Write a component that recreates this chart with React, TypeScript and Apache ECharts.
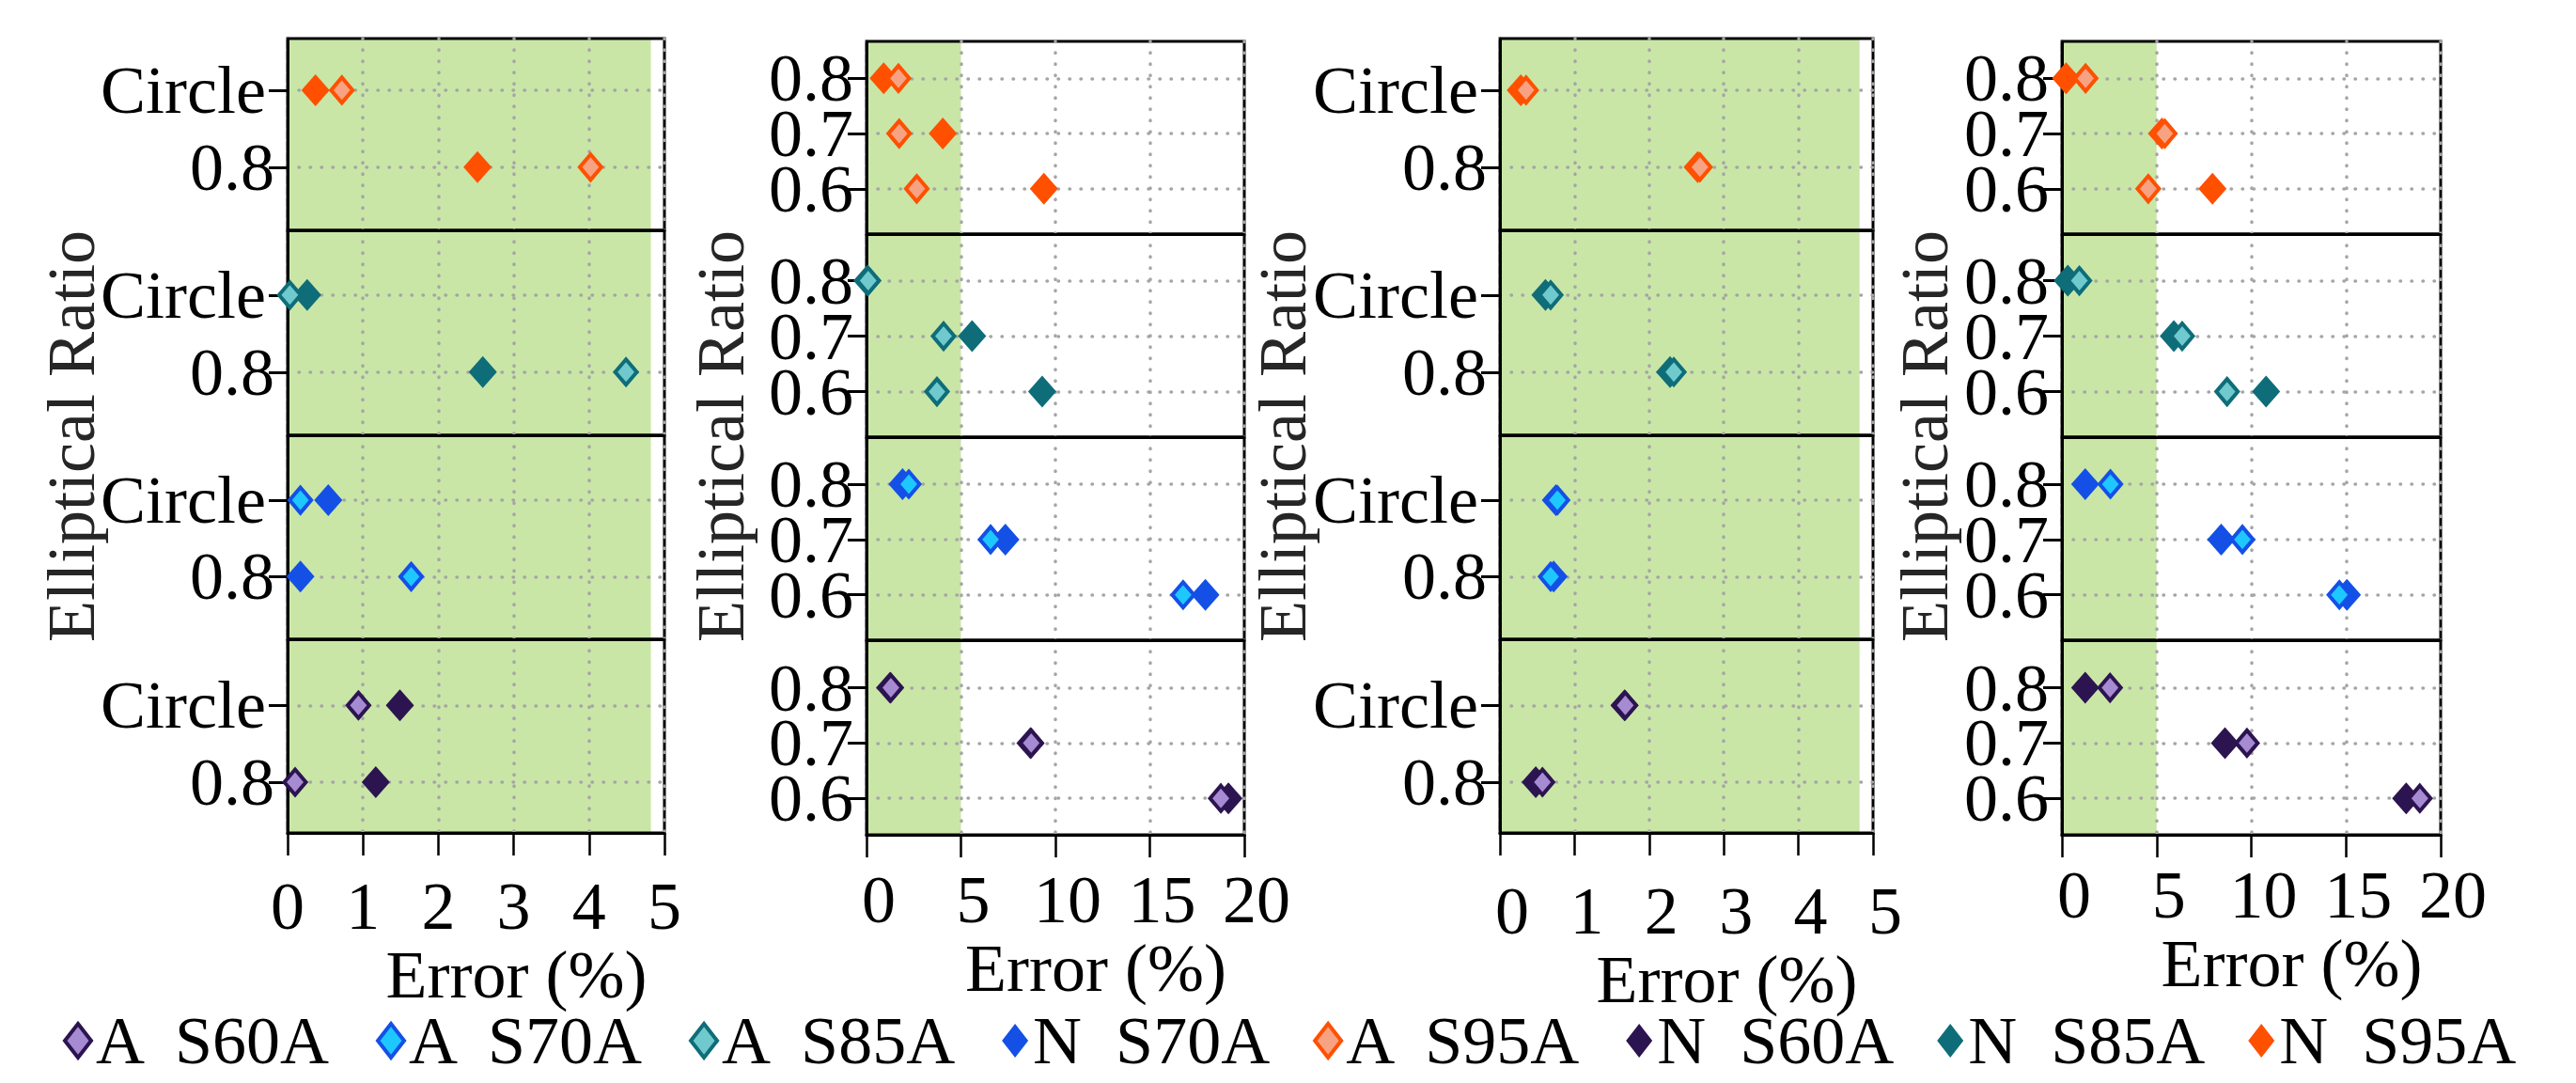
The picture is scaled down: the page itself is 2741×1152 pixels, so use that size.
import React, { useEffect, useRef } from "react";
import * as echarts from "echarts";

const W = 2741;
const H = 1152;
const FONT = "'Liberation Serif', 'Times New Roman', serif";

// rows of panels, top to bottom
const steels = ["S95A", "S85A", "S70A", "S60A"];
// y categories, top to bottom
const ratiosCircle = ["Circle", "0.8"];
const ratiosEllip = ["0.8", "0.7", "0.6"];

// Error (%) — column 1 (ratios Circle, 0.8), one row per steel
const col1A = [[0.72, 4.02], [0.03, 4.49], [0.17, 1.64], [0.94, 0.1]];
const col1N = [[0.37, 2.52], [0.26, 2.59], [0.54, 0.17], [1.49, 1.17]];
// column 2 (ratios 0.8, 0.7, 0.6)
const col2A = [[1.69, 1.73, 2.66], [0.09, 4.08, 3.73], [2.24, 6.57, 16.76], [1.29, 8.72, 18.76]];
const col2N = [[0.91, 4.04, 9.39], [0.05, 5.59, 9.3], [1.91, 7.35, 17.94], [1.25, 8.68, 19.16]];
// column 3 (ratios Circle, 0.8)
const col3A = [[0.35, 2.68], [0.68, 2.33], [0.77, 0.68], [1.68, 0.57]];
const col3N = [[0.28, 2.65], [0.61, 2.28], [0.75, 0.72], [1.67, 0.48]];
// column 4 (ratios 0.8, 0.7, 0.6)
const col4A = [[1.25, 5.43, 4.56], [0.92, 6.35, 8.72], [2.56, 9.53, 14.65], [2.54, 9.77, 18.9]];
const col4N = [[0.22, 5.28, 7.95], [0.31, 5.91, 10.78], [1.23, 8.41, 15.05], [1.23, 8.61, 18.18]];

const xMax = [5, 20, 5, 20];
const xInterval = [1, 5, 1, 5];
const greenLimit = [4.82, 5, 4.82, 5];

const legendOrder = ["A  S60A", "A  S70A", "A  S85A", "N  S70A", "A  S95A", "N  S60A", "N  S85A", "N  S95A"];

// styles
const darkColors = ["#ff5000", "#0e6d78", "#1450e6", "#2c1450"];
const lightColors = ["#f7a283", "#6fc9cd", "#1ec8ff", "#a68bd2"];
const GREEN = "#c9e6a7";
const DOT = { color: "#a5a5a5", width: 3.5, type: [0.5, 11.5], cap: "round" };

// layout
const colLeft = [306, 922, 1596, 2194];
const colWidth = [401, 402, 397, 403];
const rowEdgesOdd = [41, 245, 463, 680, 886];
const rowEdgesEven = [44, 249, 465, 681, 888];
const padHigh = [0.67, 0.84, 0.85, 0.86];
const padLow = [0.82, 0.82, 0.82, 0.66];
const labelMargin = [42, 33, 47, 28];
const labelShift = [0, 13, 13, 13];
const yTitleX = [76, 767, 1365, 2048];

function buildOption() {
  const frameGrids: any[] = [];
  const dataGrids: any[] = [];
  const frameX: any[] = [];
  const frameY: any[] = [];
  const dataX: any[] = [];
  const dataY: any[] = [];
  const bands: any[] = [];
  const seriesN: any[] = [];
  const seriesA: any[] = [];
  const colsA = [col1A, col2A, col3A, col4A];
  const colsN = [col1N, col2N, col3N, col4N];

  for (let c = 0; c < 4; c++) {
    const catsTop = c % 2 === 0 ? ratiosCircle : ratiosEllip;
    const catsAxis = [...catsTop].reverse(); // bottom to top
    const n = catsTop.length;
    const edges = c % 2 === 0 ? rowEdgesOdd : rowEdgesEven;
    for (let r = 0; r < 4; r++) {
      const idx = c * 4 + r;
      const didx = 16 + idx;
      const bottom = r === 3;
      const h = edges[r + 1] - edges[r];
      const unit = h / (padLow[r] + padHigh[r] + n - 1);

      // panel frame
      frameGrids.push({
        left: colLeft[c],
        width: colWidth[c],
        top: edges[r],
        height: h,
        show: true,
        borderColor: "#000",
        borderWidth: 3,
        backgroundColor: "transparent",
        z: 2,
      });
      // grid holding the category rows
      dataGrids.push({
        left: colLeft[c],
        width: colWidth[c],
        top: edges[r] + padHigh[r] * unit,
        height: (n - 1) * unit,
        show: false,
        z: 2,
      });
      frameX.push({
        type: "value",
        gridIndex: idx,
        min: 0,
        max: xMax[c],
        interval: xInterval[c],
        z: 2,
        axisLine: { show: true, onZero: false, lineStyle: { color: "#000", width: 3 } },
        axisTick: { show: bottom, length: 24, lineStyle: { color: "#000", width: 2.5 } },
        axisLabel: {
          show: bottom,
          margin: labelMargin[c],
          fontFamily: FONT,
          fontSize: 72,
          color: "#000",
          padding: [0, 0, 0, 2 * labelShift[c]],
        },
        splitLine: { show: true, lineStyle: DOT },
        minorSplitLine: { show: false },
        name: bottom ? "Error (%)" : "",
        nameLocation: "middle",
        nameGap: 92,
        nameTextStyle: { fontFamily: FONT, fontSize: 72, lineHeight: 60, color: "#000", padding: [0, 0, 0, 86] },
      });
      frameY.push({
        type: "value",
        gridIndex: idx,
        min: 0,
        max: 1,
        z: 2,
        axisLine: { show: true, onZero: false, lineStyle: { color: "#000", width: 3 } },
        axisTick: { show: false },
        axisLabel: { show: false },
        splitLine: { show: false },
      });
      dataX.push({
        type: "value",
        gridIndex: didx,
        min: 0,
        max: xMax[c],
        interval: xInterval[c],
        show: false,
        axisLine: { show: false },
        axisTick: { show: false },
        axisLabel: { show: false },
        splitLine: { show: false },
      });
      dataY.push({
        type: "category",
        gridIndex: didx,
        data: catsAxis,
        boundaryGap: false,
        z: 2,
        axisLine: { show: false },
        axisTick: { show: true, interval: 0, length: 20, lineStyle: { color: "#000", width: 3 } },
        axisLabel: {
          interval: 0,
          margin: 14,
          fontFamily: FONT,
          fontSize: 72,
          lineHeight: 50,
          color: "#000",
          formatter: (v: string) => (v === "Circle" ? "{c|Circle}" : v),
          rich: { c: { fontFamily: FONT, fontSize: 72, lineHeight: 50, color: "#000", padding: [0, 9, 0, 0] } },
        },
        splitLine: { show: true, interval: 0, lineStyle: DOT },
      });

      // green band of the panel
      bands.push({
        type: "scatter",
        name: "band",
        xAxisIndex: idx,
        yAxisIndex: idx,
        data: [],
        silent: true,
        markArea: {
          silent: true,
          z: 1,
          itemStyle: { color: GREEN, opacity: 1 },
          label: { show: false },
          data: [[{ xAxis: 0 }, { xAxis: greenLimit[c] }]],
        },
      });

      const toPoints = (vals: number[]) => vals.map((v, k) => [v, catsTop[k]]);
      seriesN.push({
        type: "scatter",
        name: "N  " + steels[r],
        xAxisIndex: didx,
        yAxisIndex: didx,
        clip: false,
        data: toPoints(colsN[c][r]),
        symbol: "diamond",
        symbolSize: [30, 34],
        itemStyle: { color: darkColors[r], opacity: 1 },
        z: 5,
      });
      seriesA.push({
        type: "scatter",
        name: "A  " + steels[r],
        xAxisIndex: didx,
        yAxisIndex: didx,
        clip: false,
        data: toPoints(colsA[c][r]),
        symbol: "diamond",
        symbolSize: [23, 27],
        itemStyle: { color: lightColors[r], borderColor: darkColors[r], borderWidth: 4, opacity: 1 },
        z: 6,
      });
    }
  }

  return {
    animation: false,
    backgroundColor: "#fff",
    grid: [...frameGrids, ...dataGrids],
    xAxis: [...frameX, ...dataX],
    yAxis: [...frameY, ...dataY],
    legend: {
      data: legendOrder.map((name) =>
        name.startsWith("A") ? { name, itemStyle: { borderWidth: 4 } } : { name }
      ),
      left: 67,
      top: 1071,
      padding: 0,
      itemWidth: 28,
      itemHeight: 36,
      itemGap: 46,
      icon: "diamond",
      selectedMode: false,
      textStyle: { fontFamily: FONT, fontSize: 72, lineHeight: 56, color: "#000" },
    },
    graphic: yTitleX.map((x) => ({
      type: "text",
      x,
      y: 464,
      rotation: Math.PI / 2,
      style: {
        text: "Elliptical Ratio",
        fontFamily: FONT,
        fontSize: 72,
        fill: "#262626",
        textAlign: "center",
        textVerticalAlign: "middle",
        align: "center",
        verticalAlign: "middle",
      },
    })),
    series: [...bands, ...seriesN, ...seriesA],
  };
}

export default function App() {
  const ref = useRef<HTMLDivElement>(null);
  useEffect(() => {
    if (!ref.current) return;
    const chart = echarts.init(ref.current, undefined, { renderer: "svg" });
    chart.setOption(buildOption() as any);
    return () => chart.dispose();
  }, []);
  return (
    <div
      ref={ref}
      style={{ position: "absolute", left: 0, top: 0, width: W, height: H, background: "#fff" }}
    />
  );
}
